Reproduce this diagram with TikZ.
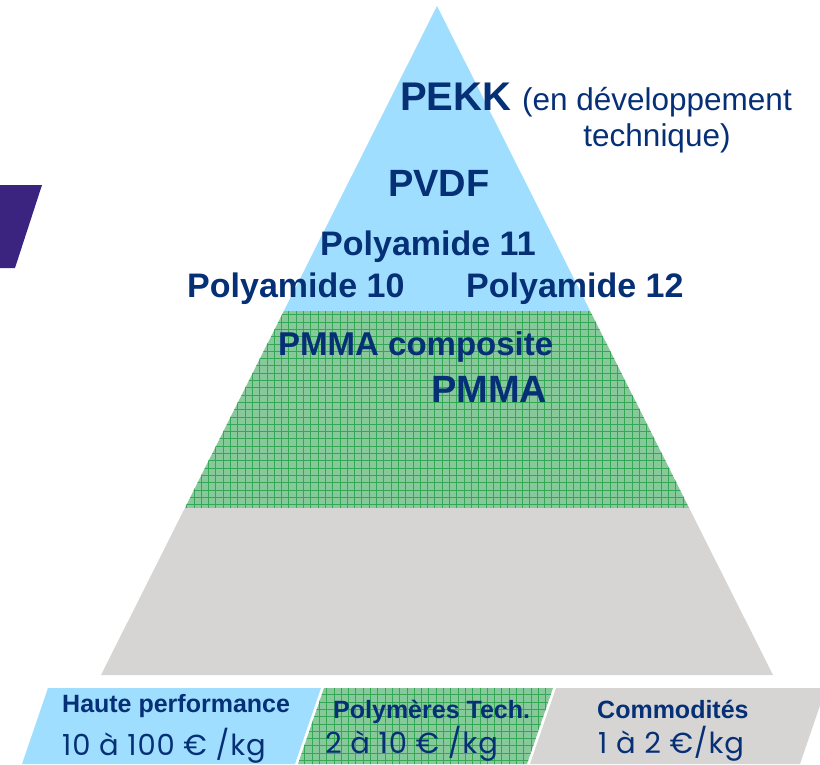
\documentclass[tikz,border=0pt]{standalone}
\usepackage{fontspec}
\setmainfont{Liberation Sans}
\newfontfamily\pricefont{Poppins}[LetterSpace=3]
\usetikzlibrary{calc,positioning}

\definecolor{skyfill}{RGB}{160,222,255}
\definecolor{techfill}{RGB}{136,201,156}
\definecolor{techgrid}{RGB}{52,168,84}
\definecolor{commfill}{RGB}{214,213,212}
\definecolor{navytxt}{RGB}{6,48,118}
\definecolor{purplebar}{RGB}{58,36,128}

\begin{document}
\begin{tikzpicture}[
  x=1pt, y=-1pt,
  polybig/.style={font=\fontsize{38}{40}\selectfont\bfseries, text=navytxt, inner sep=0pt, anchor=base west},
  polymid/.style={font=\fontsize{34}{36}\selectfont\bfseries, text=navytxt, inner sep=0pt, anchor=base west},
  notetxt/.style={font=\fontsize{31.5}{34}\selectfont, text=navytxt, inner sep=0pt, anchor=base},
  bandhead/.style={font=\fontsize{25}{27}\selectfont\bfseries, text=navytxt, inner sep=0pt, anchor=base west},
  bandprice/.style={font=\pricefont\fontsize{29}{31}\selectfont, text=navytxt, inner sep=0pt, anchor=base west},
  gridlines/.style={techgrid, line width=0.6pt}
]
\useasboundingbox (0,0) rectangle (820,764);

% pyramid corners
\coordinate (apex) at (437,6);
\coordinate (bl) at (101,675);
\coordinate (br) at (773,675);
\coordinate (l1) at ($(apex)!0.4559!(bl)$);
\coordinate (r1) at ($(apex)!0.4559!(br)$);
\coordinate (l2) at ($(apex)!0.7504!(bl)$);
\coordinate (r2) at ($(apex)!0.7504!(br)$);

% tiers
\fill[skyfill] (apex) -- (r1) -- (l1) -- cycle;
\fill[techfill] (l1) -- (r1) -- (r2) -- (l2) -- cycle;
\begin{scope}
  \clip (l1) -- (r1) -- (r2) -- (l2) -- cycle;
  \foreach \k in {0,...,80}
    \draw[gridlines] (150+7.3*\k,300) -- ++(0,220);
  \foreach \k in {0,...,30}
    \draw[gridlines] (150,300+7.3*\k) -- ++(570,0);
\end{scope}
\fill[commfill] (l2) -- (r2) -- (br) -- (bl) -- cycle;

% purple tab on the left
\fill[purplebar] (-5,185) -- (42,185) -- (15,268) -- (-5,268) -- cycle;

% price band
\fill[skyfill] (48,688) -- (321,688) -- (295,764) -- (22,764) -- cycle;
\fill[techfill] (324,688) -- (553,688) -- (527,764) -- (298,764) -- cycle;
\begin{scope}
  \clip (324,688) -- (553,688) -- (527,764) -- (298,764) -- cycle;
  \foreach \k in {0,...,37}
    \draw[gridlines] (290+7.3*\k,680) -- ++(0,90);
  \foreach \k in {0,...,12}
    \draw[gridlines] (290,680+7.3*\k) -- ++(270,0);
\end{scope}
\fill[commfill] (556,688) -- (826,688) -- (800,764) -- (530,764) -- cycle;

% polymer names
\node[polybig, font=\fontsize{40}{42}\selectfont\bfseries] (pekk) at (400,110) {PEKK};
\node[notetxt] (dev1) at (657,110) {(en développement};
\node[notetxt] (dev2) at (657,146) {technique)};
\node[polybig] (pvdf) at (388,196) {PVDF};
\node[polymid] (pa11) at (320,255) {Polyamide 11};
\node[polymid] (pa10) at (187,297) {Polyamide 10};
\node[polymid] (pa12) at (466,297) {Polyamide 12};
\node[polymid, font=\fontsize{33}{36}\selectfont\bfseries] (pmmac) at (278,355) {PMMA composite};
\node[polybig] (pmma) at (431,402) {PMMA};

% band labels
\node[bandhead] (hphead) at (62,712) {Haute performance};
\node[bandprice] (hpprice) at (62,755) {10 à 100 € /kg};
\node[bandhead] (pthead) at (333,718) {Polymères Tech.};
\node[bandprice] (ptprice) at (325,753) {2 à 10 € /kg};
\node[bandhead] (cmhead) at (597,718) {Commodités};
\node[bandprice] (cmprice) at (598,753) {1 à 2 €/kg};
\end{tikzpicture}
\end{document}
